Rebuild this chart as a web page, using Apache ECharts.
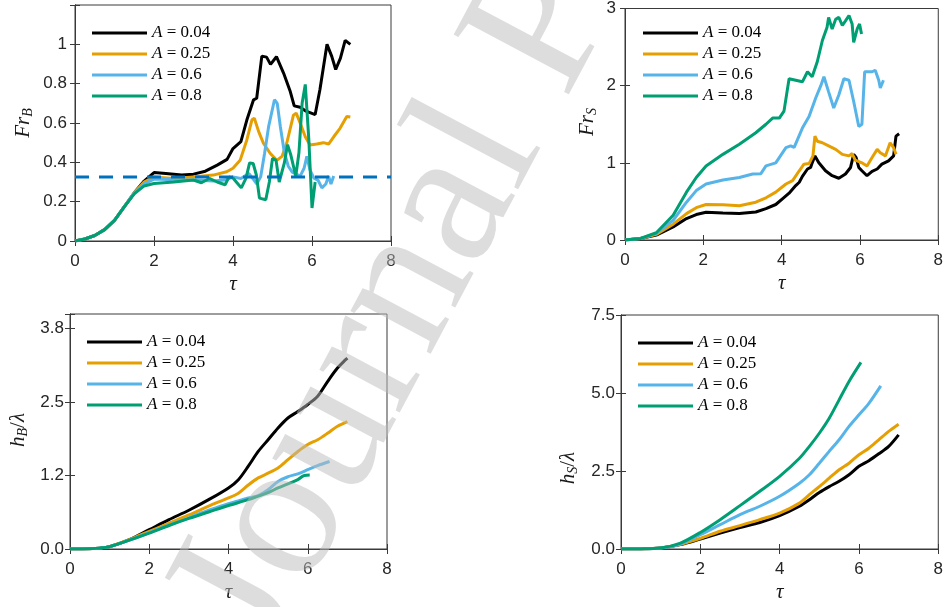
<!DOCTYPE html>
<html>
<head>
<meta charset="utf-8">
<script src="https://cdn.jsdelivr.net/npm/echarts@6/dist/echarts.min.js"></script>
<style>
  html, body { margin: 0; padding: 0; background: #fff; }
  #chart { width: 946px; height: 607px; }
</style>
</head>
<body>
<div id="chart"></div>
<script>
// ---- legend entries and colours ----
const seriesNames = ['A = 0.04', 'A = 0.25', 'A = 0.6', 'A = 0.8'];
const seriesColors = ['#000000', '#E69F00', '#56B4E9', '#009E73'];

// ---- shared tick values / labels ----
const tauTicks = [0, 2, 4, 6, 8];
const frBTickVals = [0, 0.2, 0.4, 0.6, 0.8, 1];
const frBTickLabels = ['0', '0.2', '0.4', '0.6', '0.8', '1'];
const frSTickVals = [0, 1, 2, 3];
const frSTickLabels = ['0', '1', '2', '3'];
const hBTickVals = [0, 1.25, 2.5, 3.75];
const hBTickLabels = ['0.0', '1.2', '2.5', '3.8'];
const hSTickVals = [0, 2.5, 5, 7.5];
const hSTickLabels = ['0.0', '2.5', '5.0', '7.5'];

// ---- Fr_B panel ----
const frBRef = 0.325;
const tauFrB04 = [0,0.25,0.5,0.75,1.0,1.25,1.5,1.75,2.0,2.3,2.7,3.0,3.3,3.6,3.85,4.0,4.2,4.35,4.52,4.6,4.73,4.85,4.95,5.1,5.28,5.45,5.55,5.7,5.85,6.08,6.2,6.38,6.5,6.6,6.72,6.84,6.97];
const frB04 = [0,0.01,0.028,0.058,0.105,0.175,0.245,0.305,0.348,0.343,0.335,0.34,0.355,0.386,0.415,0.47,0.505,0.615,0.718,0.726,0.94,0.935,0.898,0.937,0.854,0.76,0.687,0.68,0.66,0.643,0.769,1.0,0.939,0.872,0.93,1.02,1.0];
const tauFrB25 = [0,0.25,0.5,0.75,1.0,1.25,1.5,1.75,2.0,2.5,3.0,3.5,3.84,4.0,4.18,4.35,4.48,4.54,4.65,4.77,4.94,5.11,5.24,5.36,5.53,5.6,5.7,5.83,5.95,6.12,6.29,6.42,6.55,6.71,6.88,6.97];
const frB25 = [0,0.01,0.028,0.058,0.105,0.175,0.245,0.3,0.326,0.318,0.326,0.335,0.352,0.37,0.41,0.514,0.616,0.624,0.556,0.497,0.446,0.41,0.43,0.497,0.64,0.65,0.6,0.53,0.488,0.493,0.5,0.493,0.53,0.573,0.633,0.63];
const tauFrB60 = [0,0.25,0.5,0.75,1.0,1.25,1.5,1.75,2.0,2.5,3.0,3.5,3.8,4.0,4.2,4.4,4.5,4.6,4.7,4.8,4.9,5.05,5.12,5.2,5.3,5.4,5.5,5.6,5.7,5.8,5.87,5.95,6.05,6.15,6.25,6.35,6.42,6.48,6.55];
const frB60 = [0,0.01,0.028,0.058,0.105,0.175,0.245,0.29,0.315,0.312,0.31,0.305,0.31,0.326,0.318,0.343,0.318,0.29,0.326,0.446,0.58,0.718,0.7,0.58,0.45,0.38,0.35,0.34,0.33,0.37,0.43,0.36,0.32,0.31,0.27,0.29,0.33,0.29,0.33];
const tauFrB80 = [0,0.25,0.5,0.75,1.0,1.25,1.5,1.75,2.0,2.5,3.0,3.2,3.4,3.6,3.8,3.9,4.0,4.1,4.21,4.33,4.42,4.51,4.59,4.67,4.83,4.92,5.0,5.09,5.17,5.3,5.38,5.46,5.59,5.67,5.75,5.83,5.92,6.0,6.08];
const frB80 = [0,0.01,0.028,0.058,0.105,0.175,0.24,0.28,0.292,0.3,0.31,0.296,0.318,0.3,0.286,0.326,0.32,0.296,0.27,0.32,0.397,0.394,0.337,0.218,0.21,0.3,0.42,0.41,0.3,0.397,0.49,0.44,0.33,0.45,0.7,0.796,0.515,0.168,0.3];

// ---- Fr_S panel ----
const tauFrS04 = [0,0.4,0.8,1.23,1.57,1.82,2.07,2.5,2.92,3.34,3.6,3.85,4.02,4.19,4.36,4.45,4.53,4.66,4.74,4.78,4.85,4.95,5.12,5.29,5.46,5.63,5.76,5.84,5.9,5.97,6.05,6.18,6.31,6.44,6.56,6.73,6.86,6.92,7.0];
const frS04 = [0,0.02,0.064,0.17,0.278,0.33,0.36,0.35,0.342,0.363,0.406,0.46,0.534,0.607,0.705,0.748,0.825,0.92,0.94,1.0,1.09,1.0,0.897,0.833,0.8,0.855,0.94,1.11,1.07,0.94,0.897,0.833,0.89,0.92,0.983,1.026,1.09,1.346,1.376];
const tauFrS25 = [0,0.4,0.8,1.23,1.57,1.82,2.07,2.5,2.92,3.34,3.6,3.85,4.11,4.28,4.45,4.57,4.7,4.8,4.85,4.91,5.04,5.2,5.38,5.55,5.72,5.8,5.88,6.05,6.18,6.31,6.44,6.52,6.65,6.77,6.86,6.92];
const frS25 = [0,0.02,0.073,0.205,0.342,0.419,0.46,0.457,0.444,0.49,0.547,0.62,0.726,0.77,0.897,0.983,0.99,1.09,1.346,1.28,1.26,1.22,1.175,1.11,1.09,1.12,1.034,1.0,0.96,1.07,1.175,1.13,1.09,1.26,1.197,1.11];
const tauFrS60 = [0,0.4,0.8,1.23,1.57,1.82,2.07,2.5,2.92,3.26,3.47,3.6,3.85,4.11,4.23,4.32,4.53,4.7,4.87,5.0,5.08,5.2,5.33,5.46,5.59,5.72,5.84,5.97,6.05,6.12,6.31,6.39,6.48,6.52,6.6];
const frS60 = [0,0.02,0.085,0.256,0.49,0.64,0.726,0.778,0.81,0.855,0.86,0.96,1.0,1.197,1.22,1.2,1.45,1.6,1.84,2.0,2.115,1.92,1.71,1.88,2.09,2.07,1.795,1.47,1.5,2.18,2.18,2.2,2.07,1.97,2.07];
const tauFrS80 = [0,0.4,0.8,1.23,1.57,1.82,2.07,2.5,2.92,3.34,3.6,3.77,3.94,4.06,4.19,4.36,4.53,4.66,4.78,4.91,5.04,5.16,5.2,5.29,5.38,5.46,5.55,5.63,5.72,5.8,5.84,5.93,5.99,6.04];
const frS80 = [0,0.02,0.094,0.32,0.62,0.81,0.96,1.11,1.24,1.39,1.5,1.58,1.58,1.67,2.09,2.07,2.05,2.18,2.115,2.31,2.585,2.756,2.885,2.735,2.86,2.885,2.78,2.84,2.91,2.8,2.56,2.735,2.8,2.67];

// ---- h_B / lambda panel ----
const tauHB04 = [0,0.5,0.75,1,1.5,2,2.5,3,3.5,4,4.25,4.5,4.75,5,5.25,5.5,5.75,6,6.25,6.5,6.75,7];
const hB04 = [0,0.005,0.015,0.04,0.16,0.33,0.5,0.66,0.84,1.04,1.18,1.41,1.66,1.86,2.06,2.23,2.34,2.46,2.6,2.85,3.08,3.25];
const tauHB25 = [0,0.5,0.75,1,1.5,2,2.5,3,3.5,4,4.25,4.5,4.75,5,5.25,5.5,5.75,6,6.25,6.5,6.75,7];
const hB25 = [0,0.005,0.015,0.04,0.16,0.3,0.44,0.58,0.73,0.87,0.95,1.09,1.21,1.29,1.38,1.52,1.66,1.78,1.86,1.97,2.09,2.17];
const tauHB60 = [0,0.5,0.75,1,1.5,2,2.5,3,3.5,4,4.25,4.5,4.75,5,5.25,5.5,5.75,6,6.25,6.55];
const hB60 = [0,0.005,0.015,0.04,0.15,0.28,0.41,0.53,0.66,0.77,0.82,0.87,0.91,1.01,1.15,1.23,1.28,1.35,1.42,1.49];
const tauHB80 = [0,0.5,0.75,1,1.5,2,2.5,3,3.5,4,4.5,4.75,5,5.25,5.5,5.75,5.9,6.05];
const hB80 = [0,0.005,0.015,0.04,0.15,0.27,0.4,0.52,0.63,0.74,0.84,0.9,0.96,1.04,1.11,1.18,1.25,1.26];

// ---- h_S / lambda panel ----
const tauHS04 = [0,0.5,1,1.5,2,2.5,3,3.5,4,4.5,4.75,5,5.25,5.5,5.75,6,6.25,6.5,6.75,7];
const hS04 = [0,0.003,0.03,0.14,0.32,0.51,0.69,0.85,1.07,1.37,1.58,1.81,2.0,2.17,2.38,2.65,2.83,3.05,3.29,3.66];
const tauHS25 = [0,0.5,1,1.5,2,2.5,3,3.5,4,4.5,4.75,5,5.25,5.5,5.75,6,6.25,6.5,6.75,7];
const hS25 = [0,0.003,0.03,0.15,0.34,0.57,0.75,0.94,1.15,1.47,1.74,2.0,2.27,2.54,2.75,3.02,3.23,3.5,3.77,4.0];
const tauHS60 = [0,0.5,1,1.5,2,2.5,3,3.5,4,4.5,4.75,5,5.25,5.5,5.75,6,6.25,6.55];
const hS60 = [0,0.003,0.03,0.16,0.46,0.78,1.1,1.37,1.69,2.11,2.38,2.75,3.13,3.5,3.93,4.3,4.67,5.23];
const tauHS80 = [0,0.5,1,1.5,2,2.5,3,3.5,4,4.5,4.75,5,5.25,5.5,5.75,6.05];
const hS80 = [0,0.003,0.03,0.19,0.53,0.94,1.39,1.85,2.33,2.91,3.29,3.71,4.19,4.78,5.37,5.98];

// ---------------------------------------------------------------
const pairs = (xs, ys) => xs.map((x, i) => [x, ys[i]]);
const labelFrom = (vals, labels) => v => {
  const i = vals.findIndex(t => Math.abs(t - v) < 1e-6);
  return i < 0 ? '' : labels[i];
};

const AXIS_COLOR = '#3a3a3a';
const TICK_FONT = { fontFamily: '"Liberation Sans", Arial, sans-serif', fontSize: 17, color: '#262626' };
const SERIF = '"Liberation Serif", "Times New Roman", serif';

const panels = [
  { grid: { left: 75, top: 5, width: 316, height: 236 }, yMax: 1.2, yInt: 0.2,
    yFmt: labelFrom(frBTickVals, frBTickLabels), labelMargin: 8,
    lines: [[tauFrB04, frB04], [tauFrB25, frB25], [tauFrB60, frB60], [tauFrB80, frB80]],
    smooth: false, legend: { left: 92, top: 24 } },
  { grid: { left: 625, top: 5, width: 315, height: 235 }, yMax: 3, yInt: 1,
    yFmt: labelFrom(frSTickVals, frSTickLabels), labelMargin: 9,
    lines: [[tauFrS04, frS04], [tauFrS25, frS25], [tauFrS60, frS60], [tauFrS80, frS80]],
    smooth: false, legend: { left: 643, top: 24 } },
  { grid: { left: 70, top: 314, width: 317, height: 235 }, yMax: 4, yInt: 1.25,
    yFmt: labelFrom(hBTickVals, hBTickLabels), labelMargin: 6,
    lines: [[tauHB04, hB04], [tauHB25, hB25], [tauHB60, hB60], [tauHB80, hB80]],
    smooth: 0.3, legend: { left: 87, top: 333 } },
  { grid: { left: 621, top: 315, width: 318, height: 234 }, yMax: 7.5, yInt: 2.5,
    yFmt: labelFrom(hSTickVals, hSTickLabels), labelMargin: 6,
    lines: [[tauHS04, hS04], [tauHS25, hS25], [tauHS60, hS60], [tauHS80, hS80]],
    smooth: 0.3, legend: { left: 638, top: 334 } }
];

const grids = [], xAxes = [], yAxes = [], series = [], legends = [];

panels.forEach((p, gi) => {
  grids.push(Object.assign({ show: true, borderColor: AXIS_COLOR, borderWidth: 1, backgroundColor: '#fff' }, p.grid));
  // bottom (labelled) and top (ticks only) tau axes
  xAxes.push({
    type: 'value', gridIndex: gi, min: 0, max: 8, interval: 2, position: 'bottom',
    axisLine: { show: true, lineStyle: { color: AXIS_COLOR } },
    axisTick: { show: true, inside: true, length: 5, lineStyle: { color: AXIS_COLOR } },
    axisLabel: Object.assign({ margin: 12, formatter: v => tauTicks.includes(v) ? String(v) : '' }, TICK_FONT),
    splitLine: { show: false },
    name: 'τ', nameLocation: 'middle', nameGap: 33,
    nameTextStyle: { fontFamily: SERIF, fontStyle: 'italic', fontSize: 21, color: '#1a1a1a' }
  });
  xAxes.push({
    type: 'value', gridIndex: gi, min: 0, max: 8, interval: 2, position: 'top',
    axisLine: { show: true, lineStyle: { color: AXIS_COLOR } },
    axisTick: { show: true, inside: true, length: 5, lineStyle: { color: AXIS_COLOR } },
    axisLabel: { show: false }, splitLine: { show: false }
  });
  yAxes.push({
    type: 'value', gridIndex: gi, min: 0, max: p.yMax, interval: p.yInt, position: 'left',
    axisLine: { show: true, lineStyle: { color: AXIS_COLOR } },
    axisTick: { show: true, inside: true, length: 5, lineStyle: { color: AXIS_COLOR } },
    axisLabel: Object.assign({ margin: p.labelMargin, formatter: p.yFmt }, TICK_FONT),
    splitLine: { show: false }
  });
  yAxes.push({
    type: 'value', gridIndex: gi, min: 0, max: p.yMax, interval: p.yInt, position: 'right',
    axisLine: { show: true, lineStyle: { color: AXIS_COLOR } },
    axisTick: { show: true, inside: true, length: 5, lineStyle: { color: AXIS_COLOR } },
    axisLabel: { show: false }, splitLine: { show: false }
  });

  p.lines.forEach((ln, si) => {
    series.push({
      type: 'line', name: seriesNames[si], xAxisIndex: gi * 2, yAxisIndex: gi * 2,
      data: pairs(ln[0], ln[1]), showSymbol: false, symbol: 'none', smooth: p.smooth,
      lineStyle: { color: seriesColors[si], width: 3 }, itemStyle: { color: seriesColors[si] },
      z: 3 + si, animation: false
    });
  });

  legends.push({
    left: p.legend.left, top: p.legend.top, orient: 'vertical', padding: 0,
    itemWidth: 55, itemHeight: 3, itemGap: 3, icon: 'rect', selectedMode: false,
    data: seriesNames,
    formatter: name => '{a|A}' + name.slice(1),
    textStyle: {
      fontFamily: SERIF, fontSize: 17, color: '#000', lineHeight: 18,
      rich: { a: { fontFamily: SERIF, fontStyle: 'italic', fontSize: 17, lineHeight: 18, color: '#000' } }
    }
  });
});

// dashed reference level in the Fr_B panel
series.push({
  type: 'line', name: 'ref', xAxisIndex: 0, yAxisIndex: 0,
  data: [[0, frBRef], [8, frBRef]], showSymbol: false, symbol: 'none',
  lineStyle: { color: '#0072BD', width: 3, type: [14, 10] }, z: 10, animation: false
});

// rotated axis titles with subscripts
const yTitle = (x, y, main, sub, tail) => ({
  type: 'text', x: x, y: y, rotation: Math.PI / 2, silent: true,
  style: {
    text: '{i|' + main + '}{s|' + sub + '}' + (tail ? '{n|/}{i|' + tail + '}' : ''),
    align: 'center', verticalAlign: 'middle', fill: '#1a1a1a',
    rich: {
      i: { fontFamily: SERIF, fontStyle: 'italic', fontSize: 21, lineHeight: 24 },
      s: { fontFamily: SERIF, fontStyle: 'italic', fontSize: 14, lineHeight: 14, verticalAlign: 'bottom' },
      n: { fontFamily: SERIF, fontSize: 21, lineHeight: 24 }
    }
  }
});

const option = {
  backgroundColor: '#ffffff',
  animation: false,
  grid: grids, xAxis: xAxes, yAxis: yAxes, series: series, legend: legends,
  graphic: [
    yTitle(23, 123, 'Fr', 'B'),
    yTitle(587, 122, 'Fr', 'S'),
    yTitle(18, 430, 'h', 'B', 'λ'),
    yTitle(568, 468, 'h', 'S', 'λ'),
    // diagonal pre-proof stamp over the figure
    {
      type: 'text', x: 310, y: 681, rotation: Math.PI * 62 / 180, z: 100, silent: true,
      style: {
        text: 'Journal Pre-proof', fontFamily: SERIF, fontSize: 198,
        fill: 'rgba(187,187,187,0.5)', align: 'left', verticalAlign: 'bottom'
      }
    }
  ]
};

const chart = echarts.init(document.getElementById('chart'), null, { renderer: 'canvas' });
chart.setOption(option);
</script>
</body>
</html>
